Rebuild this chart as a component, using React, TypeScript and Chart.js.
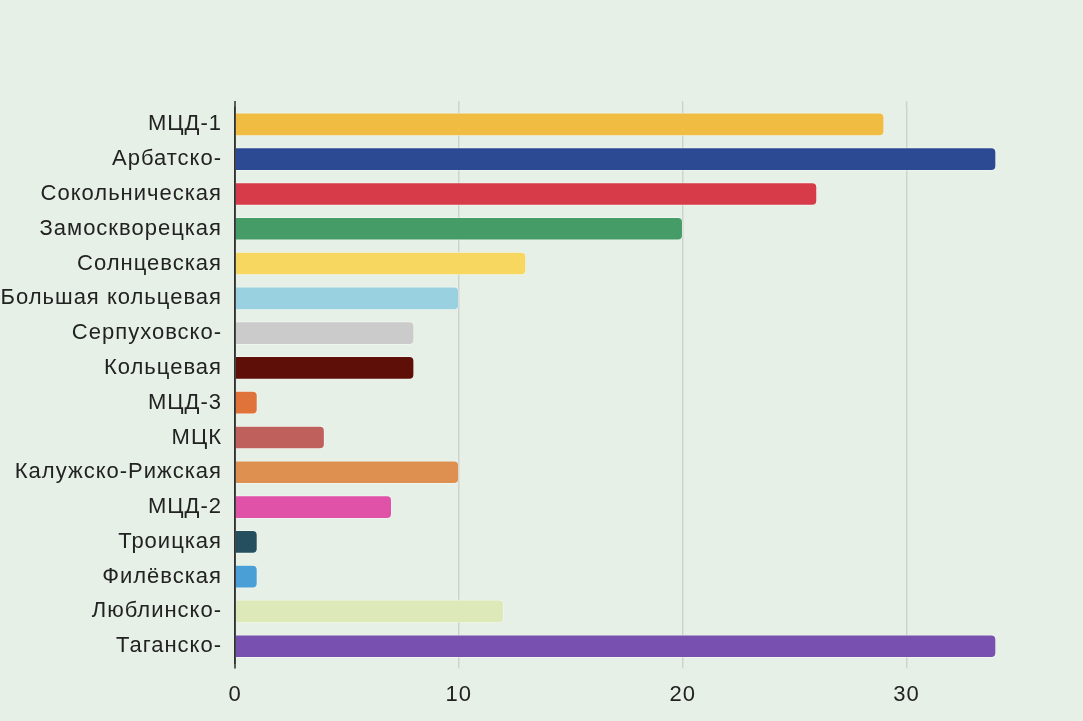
import React, { useEffect, useRef } from "react";
import { Chart, registerables } from "chart.js";

Chart.register(...registerables);

const categories = [
  "МЦД-1",
  "Арбатско-",
  "Сокольническая",
  "Замоскворецкая",
  "Солнцевская",
  "Большая кольцевая",
  "Серпуховско-",
  "Кольцевая",
  "МЦД-3",
  "МЦК",
  "Калужско-Рижская",
  "МЦД-2",
  "Троицкая",
  "Филёвская",
  "Люблинско-",
  "Таганско-",
];

const values = [29, 34, 26, 20, 13, 10, 8, 8, 1, 4, 10, 7, 1, 1, 12, 34];

const colors = [
  "#f0bd42",
  "#2c4a94",
  "#d73a48",
  "#459c66",
  "#f7d75f",
  "#99d1e0",
  "#cbcbcb",
  "#5d0f08",
  "#e0733a",
  "#c0605c",
  "#de9050",
  "#df52a8",
  "#254f5f",
  "#4aa0d6",
  "#dde9b8",
  "#7851b0",
];

const xTicks = [0, 10, 20, 30];

const FONT = "'Liberation Sans', Arial, Helvetica, sans-serif";
const GRID = "#cfd3cf";
const AXIS = "#333";

const spacingPlugin = {
  id: "spacing",
  beforeDraw(chart: any) {
    chart.ctx.letterSpacing = "1px";
  },
};

const extendPlugin = {
  id: "extend",
  beforeDatasetsDraw(chart: any) {
    const { ctx, chartArea, scales } = chart;
    ctx.save();
    ctx.strokeStyle = GRID;
    ctx.lineWidth = 1.5;
    scales.x.ticks.forEach((t: any) => {
      const x = scales.x.getPixelForValue(t.value);
      ctx.beginPath();
      ctx.moveTo(x, chartArea.top - 6);
      ctx.lineTo(x, chartArea.top);
      ctx.stroke();
    });
    ctx.restore();
  },
  afterDatasetsDraw(chart: any) {
    const { ctx, chartArea } = chart;
    ctx.save();
    ctx.strokeStyle = AXIS;
    ctx.lineWidth = 1.5;
    const x = chartArea.left;
    ctx.beginPath();
    ctx.moveTo(x, chartArea.top - 6);
    ctx.lineTo(x, chartArea.bottom + 5);
    ctx.stroke();
    ctx.restore();
  },
};

export default function App() {
  const ref = useRef<HTMLCanvasElement | null>(null);

  useEffect(() => {
    if (!ref.current) return;
    const chart = new Chart(ref.current, {
      type: "bar",
      data: {
        labels: categories,
        datasets: [
          {
            data: values,
            backgroundColor: colors,
            borderColor: "rgba(255,255,255,0.35)",
            borderWidth: 1,
            borderRadius: 5,
            borderSkipped: "start",
            barThickness: 23,
          },
        ],
      },
      options: {
        indexAxis: "y",
        animation: false,
        responsive: false,
        maintainAspectRatio: false,
        layout: { padding: { top: 107, right: 87, left: 0, bottom: 0 } },
        plugins: { legend: { display: false }, tooltip: { enabled: false } },
        scales: {
          x: {
            type: "linear",
            min: 0,
            max: 34,
            afterBuildTicks: (axis: any) => {
              axis.ticks = xTicks.map((v) => ({ value: v }));
            },
            grid: {
              color: GRID,
              lineWidth: 1.5,
              drawTicks: true,
              tickLength: 5,
            },
            border: { display: false },
            ticks: {
              color: "#222",
              font: { family: FONT, size: 22 },
              padding: 13,
            },
          },
          y: {
            afterFit: (axis: any) => {
              axis.width = 235;
            },
            grid: { display: false, drawTicks: false },
            border: { display: true, color: AXIS, width: 1.5 },
            ticks: {
              color: "#222",
              font: { family: FONT, size: 22 },
              padding: 13,
            },
          },
        },
      },
      plugins: [spacingPlugin, extendPlugin],
    });
    return () => chart.destroy();
  }, []);

  return (
    <div
      style={{
        position: "fixed",
        left: 0,
        top: 0,
        width: 1083,
        height: 721,
        background: "#e6f0e6",
      }}
    >
      <canvas ref={ref} width={1083} height={721} style={{ display: "block" }} />
    </div>
  );
}
